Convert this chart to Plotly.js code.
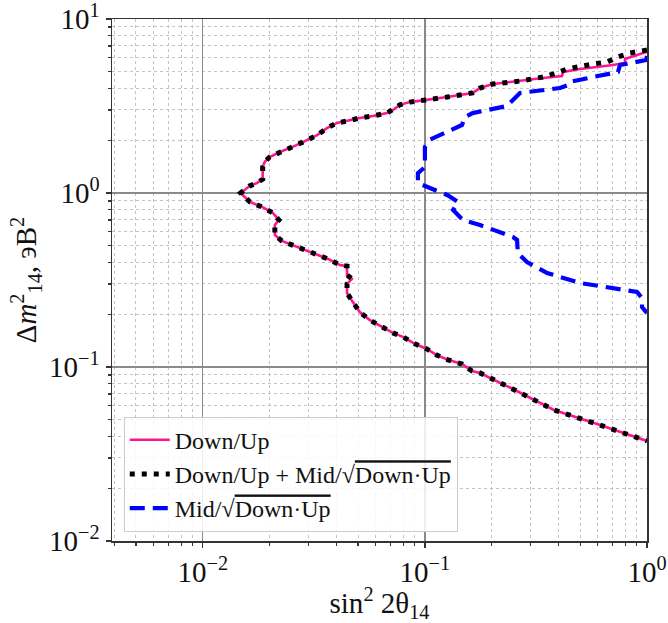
<!DOCTYPE html>
<html>
<head>
<meta charset="utf-8">
<script src="https://cdn.plot.ly/plotly-3.0.1.min.js"></script>
<style>html,body{margin:0;padding:0;background:#fff;}#plot{width:668px;height:623px;}</style>
</head>
<body>
<div id="plot"></div>
<script>
// Down/Up (pink solid)
const downUpX = [1.0, 0.96, 0.796, 0.796, 0.703, 0.499, 0.419, 0.414, 0.340, 0.268, 0.202, 0.177, 0.164, 0.126, 0.098, 0.0856, 0.0771, 0.0718, 0.0675, 0.0583, 0.0509, 0.0446, 0.0402, 0.0362, 0.0327, 0.0282, 0.0254, 0.0222, 0.0200, 0.0190, 0.0186, 0.0186, 0.0175, 0.0163, 0.0148, 0.0163, 0.0185, 0.0207, 0.0220, 0.0211, 0.0211, 0.0227, 0.0254, 0.0288, 0.0327, 0.0366, 0.0414, 0.0446, 0.0446, 0.0469, 0.0446, 0.0446, 0.0474, 0.0509, 0.0565, 0.0640, 0.0718, 0.0796, 0.0902, 0.102, 0.113, 0.127, 0.147, 0.163, 0.177, 0.244, 0.381, 0.596, 1.0];
const downUpY = [6.46, 6.38, 5.89, 5.59, 5.44, 5.16, 4.96, 4.70, 4.58, 4.40, 4.23, 4.01, 3.76, 3.56, 3.42, 3.33, 3.21, 3.00, 2.88, 2.77, 2.70, 2.59, 2.53, 2.36, 2.15, 1.96, 1.84, 1.72, 1.61, 1.51, 1.41, 1.20, 1.14, 1.10, 1.00, 0.888, 0.831, 0.767, 0.700, 0.655, 0.574, 0.530, 0.502, 0.470, 0.446, 0.418, 0.386, 0.380, 0.338, 0.321, 0.300, 0.266, 0.236, 0.207, 0.186, 0.170, 0.157, 0.149, 0.136, 0.127, 0.117, 0.110, 0.104, 0.0948, 0.0924, 0.0757, 0.0566, 0.0470, 0.0376];

// Down/Up + Mid/sqrt(Down*Up) (black dotted)
const combX = [1.0, 0.838, 0.740, 0.661, 0.571, 0.499, 0.436, 0.393, 0.340, 0.268, 0.202, 0.177, 0.164, 0.126, 0.098, 0.0856, 0.0771, 0.0718, 0.0675, 0.0583, 0.0509, 0.0446, 0.0402, 0.0362, 0.0327, 0.0282, 0.0254, 0.0222, 0.0200, 0.0190, 0.0186, 0.0186, 0.0175, 0.0163, 0.0148, 0.0163, 0.0185, 0.0207, 0.0220, 0.0211, 0.0211, 0.0227, 0.0254, 0.0288, 0.0327, 0.0366, 0.0414, 0.0446, 0.0446, 0.0469, 0.0446, 0.0446, 0.0474, 0.0509, 0.0565, 0.0640, 0.0718, 0.0796, 0.0902, 0.102, 0.113, 0.127, 0.147, 0.163, 0.177, 0.244, 0.381, 0.596, 1.0];
const combY = [6.63, 6.38, 6.05, 5.66, 5.51, 5.37, 5.16, 4.90, 4.64, 4.40, 4.23, 4.01, 3.76, 3.56, 3.42, 3.33, 3.21, 3.00, 2.88, 2.77, 2.70, 2.59, 2.53, 2.36, 2.15, 1.96, 1.84, 1.72, 1.61, 1.51, 1.41, 1.20, 1.14, 1.10, 1.00, 0.888, 0.831, 0.767, 0.700, 0.655, 0.574, 0.530, 0.502, 0.470, 0.446, 0.418, 0.386, 0.380, 0.338, 0.321, 0.300, 0.266, 0.236, 0.207, 0.186, 0.170, 0.157, 0.149, 0.136, 0.127, 0.117, 0.110, 0.104, 0.0948, 0.0924, 0.0757, 0.0566, 0.0470, 0.0376];

// Mid/sqrt(Down*Up) (blue dashed)
const midX = [1.0, 0.990, 0.756, 0.740, 0.571, 0.450, 0.441, 0.406, 0.268, 0.249, 0.234, 0.164, 0.151, 0.147, 0.105, 0.100, 0.100, 0.0930, 0.0930, 0.126, 0.141, 0.134, 0.148, 0.177, 0.249, 0.260, 0.262, 0.288, 0.355, 0.499, 0.703, 0.902, 0.950, 0.950, 1.0];
const midY = [6.13, 5.81, 5.44, 4.96, 4.64, 4.35, 4.17, 4.01, 3.76, 3.42, 3.16, 2.88, 2.73, 2.46, 2.02, 1.84, 1.41, 1.30, 1.14, 0.974, 0.888, 0.798, 0.700, 0.655, 0.559, 0.537, 0.452, 0.401, 0.347, 0.304, 0.284, 0.270, 0.249, 0.221, 0.204];

const seriesNames = ['Down/Up',
  'Down/Up + Mid/√<span style="text-decoration:overline">Down·Up</span>',
  'Mid/√<span style="text-decoration:overline">Down·Up</span>'];

const majorTickVals = [0.01, 0.1, 1, 10];
const majorTickText = ['10<sup>−2</sup>', '10<sup>−1</sup>', '10<sup>0</sup>', '10<sup>1</sup>'];

const minorVals = [];
for (let e = -3; e <= 1; e++) for (let m = 2; m <= 9; m++) minorVals.push(m * Math.pow(10, e));

const serif = "'Liberation Serif', 'DejaVu Serif', serif";

const traces = [
  {x: downUpX, y: downUpY, name: seriesNames[0], mode: 'lines',
   line: {color: '#ff1493', width: 2.6}},
  {x: combX, y: combY, name: seriesNames[1], mode: 'lines',
   line: {color: '#000000', width: 5, dash: '5px,7px'}},
  {x: midX, y: midY, name: seriesNames[2], mode: 'lines',
   line: {color: '#0000ff', width: 4.2, dash: '15px,8px'}}
];

function axis(range, title) {
  return {
    type: 'log', range: range,
    tickmode: 'array', tickvals: majorTickVals, ticktext: majorTickText,
    ticklabeloverflow: 'allow',
    ticks: 'outside', ticklen: 5, tickwidth: 1.2, tickcolor: '#333',
    showgrid: true, gridcolor: '#8a8a8a', gridwidth: 1.3,
    minor: {tickmode: 'array', tickvals: minorVals, showgrid: true,
            gridcolor: '#c4c4c4', gridwidth: 1, griddash: 'dot',
            ticks: 'outside', ticklen: 3, tickcolor: '#333'},
    showline: true, mirror: true, linecolor: '#333', linewidth: 1.5,
    zeroline: false,
    tickfont: {family: serif, size: 29, color: '#111'},
    title: {text: title, font: {family: serif, size: 29, color: '#111'}, standoff: 4},
    automargin: false
  };
}

const layout = {
  width: 668, height: 623,
  font: {family: serif, size: 24, color: '#111'},
  margin: {l: 112, r: 21, t: 19, b: 82},
  paper_bgcolor: '#fff', plot_bgcolor: '#fff',
  xaxis: axis([Math.log10(0.0039), 0], 'sin<sup>2</sup> 2θ<sub>14</sub>'),
  yaxis: axis([-2, 1], 'Δ<i>m</i><sup>2</sup><sub>14</sub>, эВ<sup>2</sup>'),
  showlegend: true,
  legend: {x: 0.022, y: 0.018, xanchor: 'left', yanchor: 'bottom',
           bgcolor: 'rgba(255,255,255,0.85)', bordercolor: '#cccccc', borderwidth: 1,
           font: {family: serif, size: 24, color: '#111'}, itemwidth: 40},
};

Plotly.newPlot('plot', traces, layout, {displayModeBar: false, staticPlot: true});
</script>
</body>
</html>
